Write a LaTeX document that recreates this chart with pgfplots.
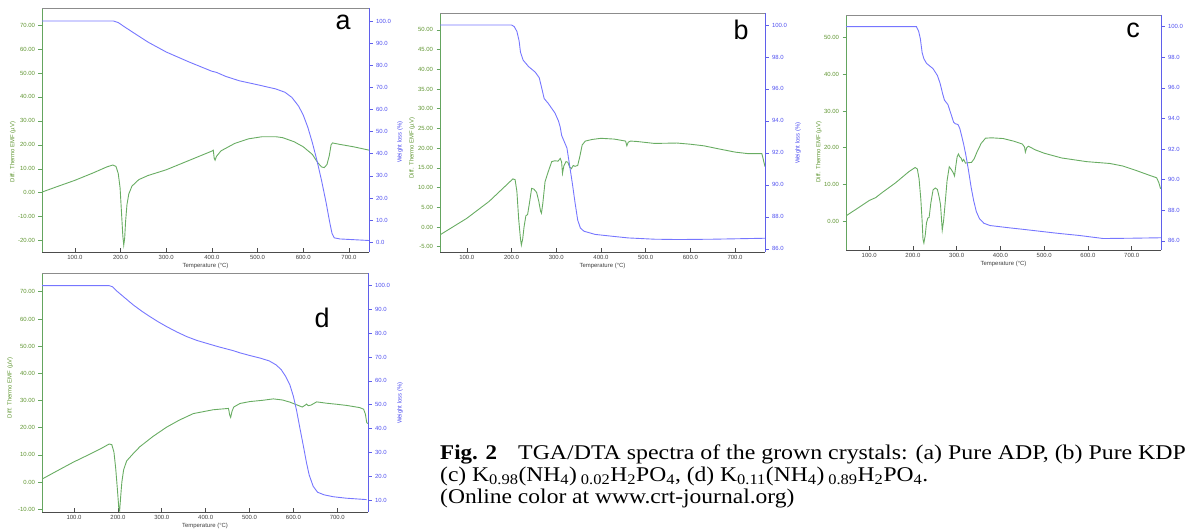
\documentclass[border=0pt]{standalone}
\usepackage{fontspec}
\setmainfont{Liberation Sans}
\newfontfamily\capfont{Liberation Serif}
\usepackage{graphicx}
\usepackage{pgfplots}
\pgfplotsset{compat=1.18}
\definecolor{dtagreen}{RGB}{104,172,98}
\definecolor{tgablue}{RGB}{118,118,255}
\definecolor{lgreen}{RGB}{96,150,50}
\definecolor{rblue}{RGB}{80,80,240}
\definecolor{axgreen}{RGB}{100,165,95}
\definecolor{axblue}{RGB}{95,95,235}
\newcommand\tk{\fontsize{6}{7}\selectfont}
\pgfplotsset{
  base/.style={scale only axis, anchor=south west,
    /pgf/number format/assume math mode=true,
    scaled x ticks=false, scaled y ticks=false,
    major tick length=3.5bp},
  leftax/.style={base, axis x line*=bottom, axis y line*=left,
    x axis line style={-, draw=black!70, line width=0.8pt},
    y axis line style={-, draw=axgreen, line width=1pt},
    xtick={100,200,...,700},
    xtick align=inside, ytick align=outside,
    xtick style={draw=black!70, line width=0.6pt},
    ytick style={draw=axgreen, line width=0.6pt},
    xticklabel style={font=\tk, text=black!75, /pgf/number format/.cd, fixed, fixed zerofill, precision=1},
    yticklabel style={font=\tk, text=lgreen, /pgf/number format/.cd, fixed, fixed zerofill, precision=2},
    xlabel={Temperature (°C)},
    every axis x label/.style={at={(axis description cs:0.5,0)}, anchor=center, yshift=-14bp, font=\tk, text=black!75},
    ylabel={Diff. Thermo EMF (µV)}},
  rightax/.style={base, axis x line*=top, axis y line*=right,
    x axis line style={-, draw=black!45, line width=0.6pt},
    y axis line style={-, draw=axblue, line width=1pt},
    xtick=\empty, ytick align=outside,
    ytick style={draw=axblue, line width=0.6pt},
    yticklabel style={font=\tk, text=rblue, /pgf/number format/.cd, fixed, fixed zerofill, precision=1}},
  gl/.style 2 args={every axis y label/.style={at={(axis description cs:#1,#2)}, rotate=90, anchor=center, font=\tk, text=lgreen}},
  bl/.style 2 args={ylabel={Weight loss (\%)}, every axis y label/.style={at={(axis description cs:#1,#2)}, rotate=90, anchor=center, font=\tk, text=rblue}},
  dta/.style={dtagreen, line width=0.9pt, mark=none},
  tga/.style={tgablue, line width=0.9pt, mark=none},
}
\newcommand\captxt[2][1.125]{\capfont\fontsize{21}{22}\selectfont\scalebox{#1}[1]{#2}}
\begin{document}
\begin{tikzpicture}
\useasboundingbox (0,0) rectangle (1188bp,529bp);
% ---------------- panel a
\begin{axis}[leftax, at={(42bp,277bp)}, width=327bp, height=244bp,
  xmin=28, xmax=744, ymin=-24.7, ymax=77.1, ytick={-20,-10,...,70}, gl={-0.089}{0.41}]
\addplot[dta] coordinates {(28,0.3)(60,2.5)(100,5.2)(140,8.3)(170,10.8)(183,11.6)(190,11)(195,8)(199,2)(202,-8)(205,-18)(207,-21.8)(209,-19)(211,-12)(214,-5)(218,-0.5)(225,2.8)(240,5.5)(260,7.2)(300,9.6)(350,13.5)(400,17.4)(403,17.8)(405,14.5)(407,13.6)(410,15.2)(420,17.5)(450,20.6)(480,22.5)(510,23.4)(540,23.4)(555,23)(580,21.3)(600,19.2)(620,16)(632,12.5)(640,10.8)(646,10.5)(652,11.8)(657,15.5)(661,20)(664,20.8)(680,20.2)(710,19.2)(744,17.8)};
\end{axis}
\begin{axis}[rightax, at={(42bp,277bp)}, width=327bp, height=244bp,
  xmin=28, xmax=744, ymin=-4.4, ymax=105.9, ytick={0,10,...,100}]
\addplot[tga] coordinates {(28,100)(185,100)(195,99.3)(210,97.2)(230,94.5)(260,90.5)(300,86)(350,81.5)(400,77.3)(410,76.8)(430,75)(460,73)(500,71.2)(540,69.3)(560,67.8)(575,65.5)(590,61.5)(600,57.5)(610,52)(620,45)(630,37)(640,28)(650,18)(658,9)(663,4)(668,2)(680,1.5)(744,0.8)};
\end{axis}
\node[font=\fontsize{27}{27}\selectfont] at (343bp,507bp) {a};
% ---------------- panel b
\begin{axis}[leftax, at={(440bp,277bp)}, width=325bp, height=239bp,
  xmin=40, xmax=767, ymin=-6.35, ymax=54.3, ytick={-5,0,...,50}, gl={-0.086}{0.435}]
\addplot[dta] coordinates {(40,-2)(100,2.2)(150,6.5)(190,10.8)(203,12.2)(208,12)(212,9)(216,2)(220,-3)(222,-4.6)(225,-3)(228,0)(232,2.8)(236,3.2)(240,6)(245,9.8)(250,9.6)(256,8.8)(261,6.5)(265,4)(267,3.5)(270,6)(275,11.5)(282,14)(290,16.6)(297,16.8)(304,16.7)(309,17.4)(312,16.5)(314,13.6)(317,15.5)(322,16.6)(326,16.4)(330,15.2)(334,14.8)(338,15.6)(342,15.4)(348,15.6)(353,18)(358,20.8)(365,21.8)(380,22.2)(400,22.5)(430,22.3)(455,21.8)(458,20.6)(461,21.5)(466,21.8)(480,21.7)(520,21.2)(570,21.3)(600,21)(630,20.6)(660,19.9)(700,19)(730,18.6)(760,18.6)(763,17.2)(767,15.3)};
\end{axis}
\begin{axis}[rightax, at={(440bp,277bp)}, width=325bp, height=239bp,
  xmin=40, xmax=767, ymin=85.8, ymax=100.75, ytick={86,88,...,100}, bl={-0.123}{0.46}]
\addplot[tga] coordinates {(40,100)(200,100)(206,99.9)(212,99.6)(217,99)(220,98.3)(226,97.8)(238,97.4)(253,97.05)(262,96.7)(268,96)(273,95.4)(282,95.1)(297,94.5)(305,94)(309,93.6)(312,93.1)(318,92.7)(324,92.3)(330,91.2)(336,90.1)(342,88.9)(348,87.8)(354,87.3)(362,87.1)(387,86.9)(420,86.8)(461,86.68)(520,86.6)(573,86.58)(650,86.6)(767,86.66)};
\end{axis}
\node[font=\fontsize{27}{27}\selectfont] at (741bp,499bp) {b};
% ---------------- panel c
\begin{axis}[leftax, at={(846bp,279bp)}, width=315bp, height=235bp,
  xmin=47, xmax=767, ymin=-7.9, ymax=56.2, ytick={0,10,...,50}, gl={-0.086}{0.417}]
\addplot[dta] coordinates {(47,1.4)(80,4)(100,5.6)(115,6.4)(130,7.8)(160,10.4)(190,13.4)(205,14.6)(210,14.2)(214,11.5)(218,6)(221,0)(223,-5)(225,-6)(228,-4)(231,-0.5)(234,0.8)(237,1)(241,5)(246,8.5)(251,9)(256,8.6)(260,6.5)(263,4.5)(265,1)(267,-2.5)(270,0)(273,4)(278,11)(283,14.8)(288,14)(292,13.2)(295,12.3)(298,15)(301,17.5)(304,18.3)(307,17.5)(310,17.2)(313,16.3)(316,16.8)(320,15.8)(326,15.9)(334,16)(340,17)(347,19)(356,21.2)(366,22.6)(380,22.7)(406,22.5)(430,21.8)(450,21)(455,20.2)(457,18.8)(460,20)(464,20.4)(480,19.4)(500,18.5)(540,17.2)(597,16.2)(650,15.7)(680,15)(710,13.8)(740,12.5)(757,11.8)(762,10.5)(766,8.8)};
\end{axis}
\begin{axis}[rightax, at={(846bp,279bp)}, width=315bp, height=235bp,
  xmin=47, xmax=767, ymin=85.4, ymax=100.76, ytick={86,88,...,100}, bl={-0.152}{0.455}]
\addplot[tga] coordinates {(47,100)(208,100)(213,99.7)(217,99.2)(221,98.3)(225,97.9)(231,97.6)(246,97.25)(256,96.8)(262,96.3)(268,95.6)(272,95.2)(280,94.9)(288,94.2)(293,93.75)(297,93.65)(303,93.6)(307,93.35)(311,92.9)(316,92.3)(321,91.6)(327,90.6)(333,89.5)(339,88.6)(345,87.9)(352,87.45)(362,87.15)(376,87)(420,86.85)(452,86.75)(528,86.5)(580,86.35)(635,86.15)(700,86.17)(767,86.2)};
\end{axis}
\node[font=\fontsize{27}{27}\selectfont] at (1133bp,499bp) {c};
% ---------------- panel d
\begin{axis}[leftax, at={(42bp,17bp)}, width=326bp, height=239bp,
  xmin=27, xmax=770, ymin=-11, ymax=76.9, ytick={-10,0,...,70}, gl={-0.098}{0.52}]
\addplot[dta] coordinates {(27,1.1)(60,4)(98,7.3)(130,9.8)(160,12.2)(180,14)(186,13.8)(191,11)(195,5)(199,-3)(202,-9.5)(204,-10.5)(206,-6)(209,0)(213,4.5)(220,7.8)(235,10.5)(250,13)(280,16.8)(311,20.2)(340,22.8)(372,25.2)(417,26.6)(452,27.1)(455,24.5)(457,23.8)(460,26)(464,27.6)(478,28.9)(500,29.6)(531,30.1)(554,30.6)(575,30.2)(592,29.4)(611,28.2)(620,27.6)(626,28.2)(630,28.7)(634,28.1)(640,28.3)(653,29.5)(676,29)(700,28.6)(721,28.2)(751,27.4)(760,26.8)(764,25)(767,22)(769,21.5)};
\end{axis}
\begin{axis}[rightax, at={(42bp,17bp)}, width=326bp, height=239bp,
  xmin=27, xmax=770, ymin=5, ymax=105.3, ytick={10,20,...,100}, bl={1.098}{0.456}]
\addplot[tga] coordinates {(27,100)(180,100)(188,99.5)(197,97.8)(215,95)(235,91.9)(255,89.2)(273,87)(292,84.8)(311,82.8)(335,80.5)(357,78.6)(380,77)(402,75.8)(430,74.3)(463,72.7)(478,71.8)(500,70.7)(524,69.6)(545,68.4)(560,66.8)(572,64.8)(582,62)(592,58.3)(600,53.5)(607,47.8)(615,40)(623,32.4)(630,25.5)(636,20.5)(645,15.8)(655,13.3)(670,12.2)(691,11.4)(720,10.8)(767,10.2)};
\end{axis}
\node[font=\fontsize{27}{27}\selectfont] at (322bp,211bp) {d};
% ---------------- caption
\node[anchor=base west, inner sep=0pt] at (440bp,69bp) {\captxt[1.1]{\textbf{Fig. 2}}};
\node[anchor=base west, inner sep=0pt] at (518bp,69bp) {\captxt[1.14]{TGA/DTA spectra of the grown crystals: (a) Pure ADP, (b) Pure KDP}};
\node[anchor=base west, inner sep=0pt] at (440bp,47.5bp) {\captxt{(c) K\textsubscript{0.98}(NH\textsubscript{4})\,\textsubscript{0.02}H\textsubscript{2}PO\textsubscript{4}, (d) K\textsubscript{0.11}(NH\textsubscript{4})\,\textsubscript{0.89}H\textsubscript{2}PO\textsubscript{4}.}};
\node[anchor=base west, inner sep=0pt] at (440bp,26bp) {\captxt{(Online color at www.crt-journal.org)}};
\end{tikzpicture}
\end{document}
